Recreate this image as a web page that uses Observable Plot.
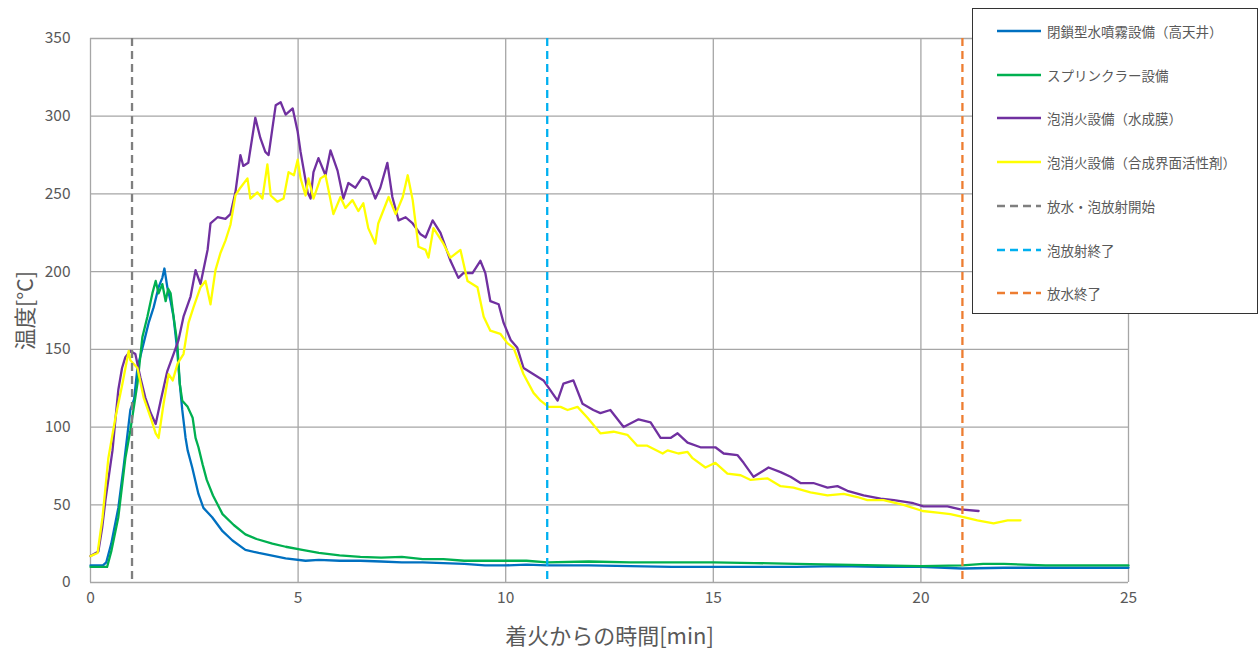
<!DOCTYPE html>
<html><head><meta charset="utf-8">
<script src="https://cdn.jsdelivr.net/npm/d3@7"></script>
<script src="https://cdn.jsdelivr.net/npm/@observablehq/plot@0.6"></script>
<style>
body{margin:0;background:#fff;font-family:"Noto Sans CJK JP","Noto Sans",sans-serif;}
#wrap{position:relative;width:1258px;height:650px;}
#legend{position:absolute;left:972px;top:8px;width:284px;height:304px;border:1px solid #333;background:#fff;}
.item{position:absolute;left:24px;height:20px;display:flex;align-items:center;font-size:13.5px;color:#595959;white-space:nowrap}
.item svg{margin-right:6px}
</style></head><body><div id="wrap"><div id="chart"></div><div id="legend"></div></div>
<script>
// x ticks (min) and y ticks (°C)
const xTicks = [0, 5, 10, 15, 20, 25];
const yTicks = [0, 50, 100, 150, 200, 250, 300, 350];

const seriesNames = ["閉鎖型水噴霧設備（高天井）", "スプリンクラー設備", "泡消火設備（水成膜）", "泡消火設備（合成界面活性剤）"];
const seriesColors = ["#0070C0", "#00B050", "#7030A0", "#FFFF00"];

const eventNames = ["放水・泡放射開始", "泡放射終了", "放水終了"];
const eventTimes = [1, 11, 21];
const eventColors = ["#7F7F7F", "#00B0F0", "#ED7D31"];

// [time(min), temperature(°C)]
const blue = [[0,11],[0.3,11],[0.38,13],[0.5,25],[0.67,48],[0.8,75],[0.92,102],[0.96,111],[1.05,118],[1.13,138],[1.28,154],[1.4,167],[1.52,177],[1.64,190],[1.73,196],[1.78,202],[1.85,190],[1.93,181],[2.0,171],[2.09,149],[2.15,128],[2.21,111],[2.29,93],[2.34,85],[2.45,74],[2.6,57],[2.72,48],[2.93,42],[3.18,33],[3.42,27],[3.73,21],[4.05,19],[4.7,15.5],[5.18,14],[5.5,14.5],[6,14],[6.5,14],[7,13.5],[7.5,13],[8,13],[8.5,12.5],[9,12],[9.5,11],[10,11],[10.5,11.5],[11,11],[12,11],[13,10.5],[14,10],[15,10],[16,10],[17,10],[18,10.5],[19,10],[20,10],[21,9],[22,9.5],[23,9.5],[24,9.5],[25,9.5]];
const green = [[0,10],[0.4,10],[0.5,20],[0.67,42],[0.84,80],[0.96,98],[1.13,128],[1.25,158],[1.37,171],[1.49,186],[1.57,194],[1.64,186],[1.73,192],[1.81,181],[1.87,189],[1.93,186],[2.0,171],[2.09,154],[2.15,128],[2.21,117],[2.34,113],[2.46,106],[2.53,93],[2.6,87],[2.7,76],[2.8,66],[2.95,56],[3.18,44],[3.45,37],[3.73,31],[4.0,28],[4.38,25],[4.7,23],[5.1,21],[5.5,19],[6,17.5],[6.5,16.5],[7,16],[7.5,16.5],[8,15],[8.5,15],[9,14],[9.5,14],[10,14],[10.5,14],[11,13],[12,13.5],[13,13],[14,13],[15,13],[16,12.5],[17,12],[18,11.5],[19,11],[20,10.5],[21,11],[21.5,12],[22,12],[23,11],[24,11],[25,11]];
const purple = [[0,17],[0.19,20],[0.28,35],[0.36,53],[0.45,70],[0.53,85],[0.6,105],[0.67,124],[0.76,138],[0.84,145],[0.96,149],[1.08,147],[1.2,132],[1.32,119],[1.45,109],[1.57,102],[1.69,117],[1.85,136],[2.0,147],[2.12,156],[2.24,171],[2.41,184],[2.53,201],[2.65,192],[2.82,214],[2.89,231],[3.06,235],[3.25,234],[3.37,237],[3.49,251],[3.61,275],[3.68,268],[3.8,270],[3.97,299],[4.09,286],[4.21,277],[4.29,275],[4.38,292],[4.46,307],[4.58,309],[4.7,301],[4.87,305],[4.99,290],[5.06,277],[5.23,251],[5.3,247],[5.37,264],[5.49,273],[5.66,262],[5.78,278],[5.95,265],[6.09,247],[6.21,257],[6.38,254],[6.55,261],[6.69,259],[6.86,247],[6.98,254],[7.15,270],[7.27,248],[7.42,233],[7.59,235],[7.76,231],[7.95,224],[8.07,222],[8.24,233],[8.43,225],[8.67,207],[8.86,196],[8.98,199],[9.2,199],[9.39,207],[9.51,199],[9.63,181],[9.83,179],[9.95,167],[10.12,156],[10.28,151],[10.43,138],[10.67,134],[10.91,130],[11.25,117],[11.39,128],[11.63,130],[11.85,115],[12.11,111],[12.28,109],[12.52,111],[12.84,100],[13.2,105],[13.49,103],[13.73,93],[13.97,93],[14.14,96],[14.38,90],[14.69,87],[15.05,87],[15.25,83],[15.58,82],[15.73,77],[15.97,68],[16.33,74],[16.62,71],[16.86,68],[17.1,64],[17.41,64],[17.75,61],[17.99,62],[18.23,59],[18.62,56],[19.03,54],[19.35,53],[19.82,51],[20.06,49],[20.64,49],[20.95,47],[21.39,46]];
const yellow = [[0,17],[0.17,19],[0.29,42],[0.43,80],[0.6,106],[0.77,128],[0.92,149],[0.96,143],[1.13,138],[1.28,119],[1.45,106],[1.57,96],[1.64,93],[1.76,115],[1.88,134],[1.98,130],[2.1,141],[2.24,147],[2.36,167],[2.48,177],[2.65,190],[2.77,194],[2.89,179],[3.01,201],[3.13,212],[3.25,220],[3.37,230],[3.49,249],[3.61,254],[3.78,260],[3.85,247],[4.02,251],[4.14,247],[4.26,269],[4.34,249],[4.5,245],[4.65,247],[4.77,264],[4.9,262],[4.99,272],[5.06,260],[5.18,249],[5.25,260],[5.37,247],[5.54,260],[5.66,262],[5.85,237],[6.02,248],[6.14,241],[6.31,246],[6.45,239],[6.57,244],[6.69,228],[6.86,218],[6.93,231],[7.18,248],[7.35,237],[7.52,248],[7.64,262],[7.76,246],[7.9,216],[8.07,214],[8.14,209],[8.26,228],[8.5,218],[8.67,209],[8.91,214],[9.08,194],[9.32,190],[9.47,171],[9.63,162],[9.87,160],[10.04,154],[10.19,151],[10.43,134],[10.67,122],[10.84,117],[11.03,113],[11.32,113],[11.49,111],[11.73,113],[11.97,106],[12.28,96],[12.6,97],[12.93,95],[13.17,88],[13.41,88],[13.78,83],[13.9,85],[14.16,83],[14.38,84],[14.5,80],[14.81,74],[15.05,77],[15.34,70],[15.66,69],[15.9,66],[16.3,67],[16.62,62],[16.93,61],[17.34,58],[17.75,56],[18.14,57],[18.47,55],[18.71,53],[19.1,53],[19.58,50],[20.04,46],[20.4,45],[20.71,44],[21.03,42],[21.36,40],[21.75,38],[22.09,40],[22.4,40]];

const seriesData = [blue, green, purple, yellow];
const textColor = "#595959";
const gridColor = "#a6a6a6";

const marks = [
  Plot.gridX(xTicks, {stroke: gridColor, strokeOpacity: 1, strokeWidth: 1.3}),
  Plot.gridY(yTicks, {stroke: gridColor, strokeOpacity: 1, strokeWidth: 1.3}),
];
seriesData.forEach((s, i) => {
  marks.push(Plot.line(s, {x: d => d[0], y: d => d[1], stroke: seriesColors[i], strokeWidth: 2.3, curve: "linear"}));
});
eventTimes.forEach((t, i) => {
  marks.push(Plot.ruleX([t], {stroke: eventColors[i], strokeWidth: 2.3, strokeDasharray: "8,5"}));
});
marks.push(
  Plot.axisX(xTicks, {tickSize: 0, tickPadding: 9, fill: textColor, fontSize: 15.5}),
  Plot.axisY(yTicks, {tickSize: 0, tickPadding: 20, fill: textColor, fontSize: 15.5}),
  Plot.text(["温度[°C]"], {text: d => d, frameAnchor: "left", textAnchor: "middle", lineAnchor: "middle", dx: -64, rotate: -90, fill: textColor, fontSize: 21.5}),
  Plot.text(["着火からの時間[min]"], {text: d => d, frameAnchor: "bottom", textAnchor: "middle", lineAnchor: "middle", dy: 54, fill: textColor, fontSize: 22})
);

const chart = Plot.plot({
  width: 1258, height: 650,
  marginLeft: 90, marginRight: 130, marginTop: 38, marginBottom: 68,
  x: {domain: [0, 25], label: null},
  y: {domain: [0, 350], label: null},
  style: {fontFamily: '"Noto Sans CJK JP", "Noto Sans", sans-serif', background: "#fff"},
  marks
});
document.getElementById("chart").appendChild(chart);

// legend
const legend = document.getElementById("legend");
const items = [
  ...seriesNames.map((n, i) => ({name: n, color: seriesColors[i], dash: null})),
  ...eventNames.map((n, i) => ({name: n, color: eventColors[i], dash: "8,5"}))
];
const rowCenters = [22, 66, 109, 153, 197, 241, 284];
items.forEach((it, i) => {
  const div = document.createElement("div");
  div.className = "item";
  div.style.top = (rowCenters[i] - 10) + "px";
  div.innerHTML = `<svg width="44" height="6"><line x1="0" x2="44" y1="3" y2="3" stroke="${it.color}" stroke-width="2.5" ${it.dash ? `stroke-dasharray="${it.dash}"` : ""}/></svg><span>${it.name}</span>`;
  legend.appendChild(div);
});
</script></body></html>
